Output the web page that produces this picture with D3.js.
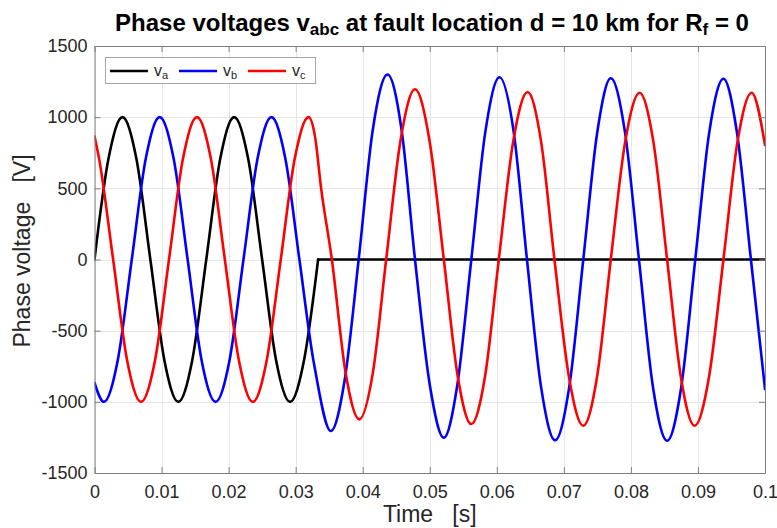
<!DOCTYPE html>
<html>
<head>
<meta charset="utf-8">
<script src="https://cdn.jsdelivr.net/npm/d3@7"></script>
<style>
  html, body { margin: 0; padding: 0; background: #fff; }
  svg text { font-family: "Liberation Sans", Arial, Helvetica, sans-serif; }
</style>
</head>
<body>
<svg id="chart" width="777" height="528"></svg>
<script>
// ---------------- data ----------------
const xTicks = [0, 0.01, 0.02, 0.03, 0.04, 0.05, 0.06, 0.07, 0.08, 0.09, 0.1];
const xTickLabels = ["0", "0.01", "0.02", "0.03", "0.04", "0.05", "0.06", "0.07", "0.08", "0.09", "0.1"];
const yTicks = [-1500, -1000, -500, 0, 500, 1000, 1500];
const yTickLabels = ["-1500", "-1000", "-500", "0", "500", "1000", "1500"];

// phase a: sinusoid until the fault, then held at zero
const timeA = [0, 0.00208, 0.00417, 0.00625, 0.00833, 0.01042, 0.0125, 0.01458, 0.01667,
               0.01875, 0.02083, 0.02292, 0.025, 0.02708, 0.02917, 0.03125, 0.03335];
const va    = [0, 707, 1000, 707, 0, -707, -1000, -707, 0,
               707, 1000, 707, 0, -707, -1000, -707, 0];
const timeAFlat = [0.03335, 0.1];
const vaFlat    = [0, 0];

// phase b
const timeB = [0, 0.00139, 0.00347, 0.00556, 0.00764, 0.00972, 0.01181, 0.01389, 0.01597,
               0.01806, 0.02014, 0.02222, 0.02431, 0.02639, 0.02847, 0.03056, 0.03264, 0.0329,
               0.03525, 0.0373, 0.0394, 0.0415, 0.0437, 0.0458, 0.0478, 0.0500,
               0.0521, 0.0541, 0.0562, 0.0583, 0.0604, 0.0625, 0.0645, 0.0666,
               0.0687, 0.0708, 0.0729, 0.0750, 0.0770, 0.0791, 0.0812, 0.0833,
               0.0854, 0.0875, 0.0896, 0.0917, 0.0938, 0.0958, 0.0979, 0.1];
const vb    = [-866, -1000, -707, 0, 707, 1000, 707, 0, -707,
               -1000, -707, 0, 707, 1000, 707, 0, -707, -775,
               -1205, -850, 0, 910, 1300, 910, 0, -880,
               -1252, -885, 0, 900, 1280, 903, 0, -895,
               -1270, -897, 0, 899, 1273, 900, 0, -899,
               -1273, -899, 0, 898, 1270, 898, 0, -910];

// phase c
const timeC = [0, 0.00069, 0.00278, 0.00486, 0.00694, 0.00903, 0.01111, 0.01319, 0.01528,
               0.01736, 0.01944, 0.02153, 0.02361, 0.02569, 0.02778, 0.02986, 0.03194,
               0.0329, 0.0338, 0.0354, 0.03745, 0.0395, 0.0415, 0.0435, 0.04565, 0.0478,
               0.04995, 0.0521, 0.05415, 0.0562, 0.05825, 0.0603, 0.06245, 0.0646,
               0.0666, 0.0686, 0.07075, 0.0729, 0.07495, 0.0770, 0.07915, 0.0813,
               0.08335, 0.0854, 0.08745, 0.0895, 0.09165, 0.0938, 0.0959, 0.0980, 0.1];
const vc    = [866, 707, 0, -707, -1000, -707, 0, 707, 1000,
               707, 0, -707, -1000, -707, 0, 707, 1000,
               860, 500, 0, -795, -1123, -800, 0, 840, 1196,
               840, 0, -815, -1156, -820, 0, 830, 1177,
               830, 0, -823, -1168, -825, 0, 828, 1172,
               828, 0, -825, -1168, -825, 0, 828, 1172, 805];

const seriesNames = ["v", "v", "v"];
const seriesSubs = ["a", "b", "c"];
const seriesColors = ["#000000", "#0000ff", "#ff0000"];

// ---------------- drawing ----------------
const svg = d3.select("#chart");
const W = 777, H = 528;
const L = 94.5, R = 765, T = 46, B = 473;

const x = d3.scaleLinear().domain([0, 0.1]).range([L, R]);
const y = d3.scaleLinear().domain([-1500, 1500]).range([B, T]);

svg.append("rect").attr("width", W).attr("height", H).attr("fill", "#fff");

// grid
const grid = svg.append("g").attr("stroke", "#e6e6e6").attr("stroke-width", 1);
grid.selectAll("line.gx").data(xTicks).join("line")
  .attr("x1", d => Math.round(x(d)) + 0.5).attr("x2", d => Math.round(x(d)) + 0.5)
  .attr("y1", T).attr("y2", B);
grid.selectAll("line.gy").data(yTicks).join("line")
  .attr("y1", d => Math.round(y(d)) + 0.5).attr("y2", d => Math.round(y(d)) + 0.5)
  .attr("x1", L).attr("x2", R);

// clip
svg.append("clipPath").attr("id", "clip").append("rect")
  .attr("x", L).attr("y", T).attr("width", R - L).attr("height", B - T);

const plot = svg.append("g").attr("clip-path", "url(#clip)");
const lineSmooth = d3.line().curve(d3.curveMonotoneX).x(d => x(d[0])).y(d => y(d[1]));
const lineLin = d3.line().x(d => x(d[0])).y(d => y(d[1]));

function draw(ts, vs, gen, color) {
  plot.append("path")
    .datum(ts.map((t, i) => [t, vs[i]]))
    .attr("d", gen)
    .attr("fill", "none")
    .attr("stroke", color)
    .attr("stroke-width", 2.6)
    .attr("stroke-linejoin", "round")
    .attr("stroke-linecap", "round");
}
draw(timeA, va, lineSmooth, seriesColors[0]);
draw(timeAFlat, vaFlat, lineLin, seriesColors[0]);
draw(timeB, vb, lineSmooth, seriesColors[1]);
draw(timeC, vc, lineSmooth, seriesColors[2]);

// axes (box with inward ticks)
const axisColor = "#808080";
const textColor = "#262626";
const fmtX = (d) => xTickLabels[xTicks.indexOf(d)];
const fmtY = (d) => yTickLabels[yTicks.indexOf(d)];

const gxB = svg.append("g").attr("transform", `translate(0,${B})`)
  .call(d3.axisBottom(x).tickValues(xTicks).tickFormat(fmtX).tickSize(-6).tickSizeOuter(0).tickPadding(12));
const gxT = svg.append("g").attr("transform", `translate(0,${T})`)
  .call(d3.axisTop(x).tickValues(xTicks).tickFormat("").tickSize(-6).tickSizeOuter(0));
const gyL = svg.append("g").attr("transform", `translate(${L},0)`)
  .call(d3.axisLeft(y).tickValues(yTicks).tickFormat(fmtY).tickSize(-6).tickSizeOuter(0).tickPadding(7));
const gyR = svg.append("g").attr("transform", `translate(${R},0)`)
  .call(d3.axisRight(y).tickValues(yTicks).tickFormat("").tickSize(-6).tickSizeOuter(0));

[gxB, gxT, gyL, gyR].forEach(g => {
  g.select(".domain").attr("stroke", axisColor).attr("stroke-width", 1);
  g.selectAll(".tick line").attr("stroke", axisColor).attr("stroke-width", 1);
  g.selectAll(".tick text").attr("fill", textColor).style("font-size", "18px")
    .style("font-family", "'Liberation Sans', Arial, sans-serif");
});
gxB.selectAll(".tick text").attr("dy", "0.71em");

// title
const title = svg.append("text")
  .attr("x", 432).attr("y", 31)
  .attr("text-anchor", "middle")
  .attr("fill", "#000")
  .style("font-size", "24px").style("font-weight", "bold");
title.append("tspan").text("Phase voltages v");
title.append("tspan").attr("baseline-shift", "-25%").style("font-size", "17px").text("abc");
title.append("tspan").text(" at fault location d = 10 km for R");
title.append("tspan").attr("baseline-shift", "-25%").style("font-size", "17px").text("f");
title.append("tspan").text(" = 0");

// axis labels
svg.append("text")
  .attr("x", (L + R) / 2).attr("y", 522)
  .attr("text-anchor", "middle").attr("fill", textColor)
  .style("font-size", "23px").style("white-space", "pre")
  .text("Time   [s]");
svg.append("text")
  .attr("transform", `translate(30,251) rotate(-90)`)
  .attr("text-anchor", "middle").attr("fill", textColor)
  .style("font-size", "23px").style("white-space", "pre")
  .text("Phase voltage   [V]");

// legend
const lg = svg.append("g");
lg.append("rect").attr("x", 105.5).attr("y", 57.5).attr("width", 210).attr("height", 26)
  .attr("fill", "#fff").attr("stroke", "#a6a6a6").attr("stroke-width", 1);
const legX = [110, 179, 248];
seriesNames.forEach((n, i) => {
  lg.append("line").attr("x1", legX[i]).attr("x2", legX[i] + 38)
    .attr("y1", 71).attr("y2", 71)
    .attr("stroke", seriesColors[i]).attr("stroke-width", 2.6);
  const t = lg.append("text").attr("x", legX[i] + 44).attr("y", 76)
    .attr("fill", textColor).style("font-size", "16px");
  t.append("tspan").text(n);
  t.append("tspan").attr("baseline-shift", "-30%").style("font-size", "11px").text(seriesSubs[i]);
});
</script>
</body>
</html>
